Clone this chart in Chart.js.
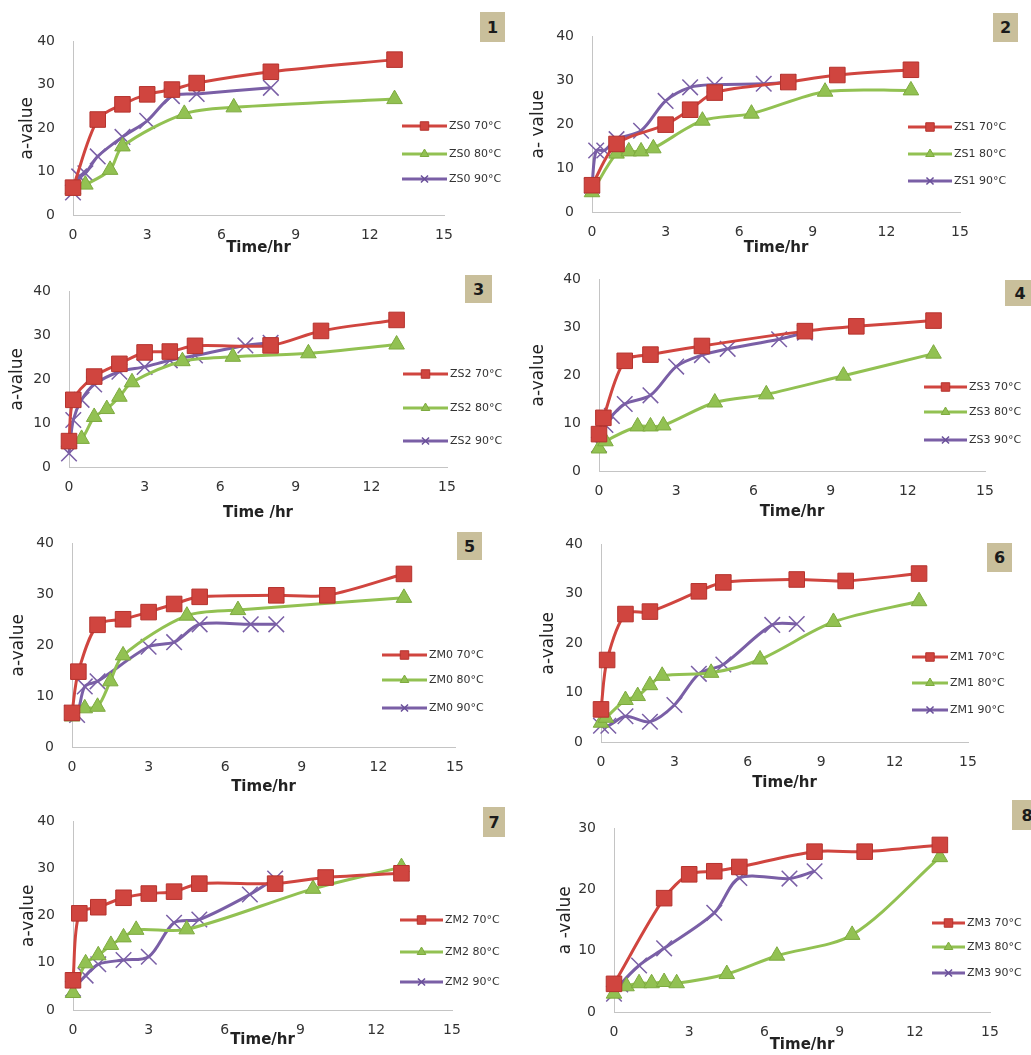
<!DOCTYPE html>
<html>
<head>
<meta charset="utf-8">
<script src="https://cdn.jsdelivr.net/npm/chart.js@4.4.0/dist/chart.umd.min.js"></script>
<style>
  body { margin: 0; background: #fff; width: 1031px; height: 1055px; overflow: hidden; position: relative; }
  canvas { position: absolute; }
  .tag { position: absolute; background: #c9bf9b; color: #1b1b1b; font: bold 16px 'DejaVu Sans', sans-serif;
         display: flex; align-items: center; justify-content: center; }
</style>
</head>
<body>
<script>
// ==================== DATA ====================

const timeTicks = [0, 3, 6, 9, 12, 15];
const tempLabels = ['70°C', '80°C', '90°C'];
const panelNames = ['ZS0', 'ZS1', 'ZS2', 'ZS3', 'ZM0', 'ZM1', 'ZM2', 'ZM3'];
const yTitles = ['a-value', 'a- value', 'a-value', 'a-value', 'a-value', 'a-value', 'a-value', 'a -value'];
const xTitles = ['Time/hr', 'Time/hr', 'Time /hr', 'Time/hr', 'Time/hr', 'Time/hr', 'Time/hr', 'Time/hr'];
const yMaxes = [40, 40, 40, 40, 40, 40, 40, 30];

// [time (hr), a-value]
const zs0_70 = [[0, 6.3], [1, 22], [2, 25.5], [3, 27.8], [4, 28.9], [5, 30.4], [8, 33], [13, 35.8]];
const zs0_80 = [[0, 6], [0.5, 7], [1.5, 10.4], [2, 15.8], [4.5, 23.3], [6.5, 24.8], [13, 26.7]];
const zs0_90 = [[0, 5.2], [0.25, 8.9], [0.5, 9.6], [1, 13.5], [2, 18], [3, 21.7], [4, 27.4], [5, 27.9], [8, 29.3]];

const zs1_70 = [[0, 6.1], [1, 15.5], [3, 19.9], [4, 23.3], [5, 27.2], [8, 29.6], [10, 31.2], [13, 32.4]];
const zs1_80 = [[0, 4.5], [1, 13.3], [1.5, 13.8], [2, 13.8], [2.5, 14.5], [4.5, 20.8], [6.5, 22.4], [9.5, 27.4], [13, 27.7]];
const zs1_90 = [[0, 6], [0.17, 14], [0.5, 14], [1, 16.6], [2, 18.5], [3, 25.3], [4, 28.4], [5, 29], [7, 29.2], [8, 29.6]];

const zs2_70 = [[0, 5.9], [0.17, 15.3], [1, 20.6], [2, 23.5], [3, 26.1], [4, 26.3], [5, 27.6], [8, 27.7], [10, 31], [13, 33.5]];
const zs2_80 = [[0, 5.3], [0.5, 6.4], [1, 11.4], [1.5, 13.2], [2, 16], [2.5, 19.3], [4.5, 24.1], [6.5, 25.1], [9.5, 25.9], [13, 27.9]];
const zs2_90 = [[0, 3.1], [0.17, 10.7], [0.5, 15.3], [1, 18.8], [2, 21.7], [3, 22.8], [4, 24.3], [5, 25.4], [7, 27.7], [8, 28.3]];

const zs3_70 = [[0, 7.7], [0.17, 11.1], [1, 23], [2, 24.3], [4, 26.1], [8, 29.2], [10, 30.2], [13, 31.4]];
const zs3_80 = [[0, 4.7], [0.25, 6.2], [1.5, 9.3], [2, 9.3], [2.5, 9.5], [4.5, 14.3], [6.5, 16], [9.5, 19.9], [13, 24.5]];
const zs3_90 = [[0, 5.5], [0.25, 9.6], [0.5, 11.5], [1, 14], [2, 15.8], [3, 21.8], [4, 24.2], [5, 25.5], [7, 27.5], [8, 28.9]];

const zm0_70 = [[0, 6.7], [0.25, 14.8], [1, 24], [2, 25.1], [3, 26.5], [4, 28.1], [5, 29.5], [8, 29.8], [10, 29.8], [13, 34]];
const zm0_80 = [[0, 6], [0.5, 7.6], [1, 7.9], [1.5, 12.9], [2, 18], [4.5, 25.8], [6.5, 26.9], [13, 29.3]];
const zm0_90 = [[0, 6.7], [0.2, 6.3], [0.5, 11.9], [1, 12.9], [3, 19.7], [4, 20.6], [5, 24.1], [7, 24.1], [8, 24.1]];

const zm1_70 = [[0, 6.6], [0.25, 16.6], [1, 25.9], [2, 26.4], [4, 30.5], [5, 32.3], [8, 32.9], [10, 32.6], [13, 34.1]];
const zm1_80 = [[0, 3.9], [0.2, 4.9], [1, 8.5], [1.5, 9.3], [2, 11.5], [2.5, 13.4], [4.5, 14], [6.5, 16.7], [9.5, 24.3], [13, 28.5]];
const zm1_90 = [[0, 3.3], [0.3, 3.3], [1, 5.2], [2, 4.1], [3, 7.5], [4, 13.8], [5, 15.7], [7, 23.7], [8, 23.9]];

const zm2_70 = [[0, 6.3], [0.25, 20.5], [1, 21.8], [2, 23.8], [3, 24.7], [4, 25.1], [5, 26.8], [8, 26.8], [10, 28.1], [13, 29]];
const zm2_80 = [[0, 3.6], [0.5, 9.9], [1, 11.6], [1.5, 13.8], [2, 15.4], [2.5, 17], [4.5, 17.1], [9.5, 25.7], [13, 30.3]];
const zm2_90 = [[0, 4.5], [0.5, 7.3], [1, 9.7], [2, 10.6], [3, 11.3], [4, 18.5], [5, 19.2], [7, 24.5], [8, 27.9]];

const zm3_70 = [[0, 4.6], [2, 18.6], [3, 22.5], [4, 23], [5, 23.7], [8, 26.2], [10, 26.2], [13, 27.3]];
const zm3_80 = [[0, 3], [0.5, 4.2], [1, 4.7], [1.5, 4.7], [2, 4.9], [2.5, 4.7], [4.5, 6.2], [6.5, 9.2], [9.5, 12.6], [13, 25.3]];
const zm3_90 = [[0, 3], [0.25, 4.5], [1, 7.6], [2, 10.4], [4, 16.2], [5, 21.9], [7, 21.8], [8, 23]];

const panelSeries = [
    [zs0_70, zs0_80, zs0_90], [zs1_70, zs1_80, zs1_90],
    [zs2_70, zs2_80, zs2_90], [zs3_70, zs3_80, zs3_90],
    [zm0_70, zm0_80, zm0_90], [zm1_70, zm1_80, zm1_90],
    [zm2_70, zm2_80, zm2_90], [zm3_70, zm3_80, zm3_90]
];

// ==================== STYLE / LAYOUT ====================

const seriesStyles = [
    { color: '#d0453f', edge: '#b5332e', pointStyle: 'rect', radius: 11, legendRadius: 6, pointWidth: 1 },
    { color: '#92c152', edge: '#7daa3f', pointStyle: 'triangle', radius: 9, legendRadius: 5, pointWidth: 1 },
    { color: '#7a5fa6', edge: '#6a509a', pointStyle: 'crossRot', radius: 11, legendRadius: 5, pointWidth: 1.5 }
];

// plot area in page pixels (L = t 0, R = t 15, T = y max, B = y 0)
const layout = [
    { L: 73,  R: 444, T: 35,  B: 215,  xGap: 33, yGap: 46, leg: [402, 447, 126, 154, 179], tag: [480, 12, 25, 30] },
    { L: 592, R: 960, T: 30,  B: 212,  xGap: 36, yGap: 54, leg: [908, 952, 127, 154, 181], tag: [993, 13, 25, 29] },
    { L: 69,  R: 447, T: 285, B: 467,  xGap: 46, yGap: 52, leg: [403, 448, 374, 408, 441], tag: [465, 275, 27, 28] },
    { L: 599, R: 985, T: 273, B: 471,  xGap: 41, yGap: 61, leg: [924, 967, 387, 412, 440], tag: [1005, 280, 30, 26] },
    { L: 72,  R: 455, T: 537, B: 747,  xGap: 40, yGap: 54, leg: [382, 427, 655, 680, 708], tag: [457, 532, 25, 28] },
    { L: 601, R: 968, T: 538, B: 742,  xGap: 41, yGap: 53, leg: [912, 948, 657, 683, 710], tag: [987, 543, 25, 29] },
    { L: 73,  R: 452, T: 815, B: 1010, xGap: 30, yGap: 45, leg: [400, 443, 920, 952, 982], tag: [483, 807, 22, 30] },
    { L: 614, R: 990, T: 822, B: 1012, xGap: 33, yGap: 49, leg: [932, 965, 923, 947, 973], tag: [1012, 800, 30, 30] }
];

const tickFont = { family: 'DejaVu Sans', size: 14 };

// legend drawn at the right-hand side of each panel
const sideLegend = {
    id: 'sideLegend',
    afterDraw(chart, args, opts) {
        const ctx = chart.ctx;
        chart.data.datasets.forEach((ds, k) => {
            const st = seriesStyles[k];
            const x0 = opts.x0 - opts.left, x1 = opts.x1 - opts.left;
            const y = opts.ys[k] - opts.top;
            ctx.save();
            ctx.strokeStyle = st.color;
            ctx.lineWidth = 3;
            ctx.beginPath();
            ctx.moveTo(x0, y);
            ctx.lineTo(x1, y);
            ctx.stroke();
            ctx.fillStyle = st.color;
            ctx.strokeStyle = st.edge;
            ctx.lineWidth = st.pointWidth;
            Chart.helpers.drawPoint(ctx, { pointStyle: st.pointStyle, radius: st.legendRadius, rotation: 0, borderWidth: st.pointWidth }, (x0 + x1) / 2, y);
            ctx.fillStyle = '#333';
            ctx.font = '11px "DejaVu Sans"';
            ctx.textBaseline = 'middle';
            ctx.textAlign = 'left';
            ctx.fillText(ds.label, x1 + 2, y);
            ctx.restore();
        });
    }
};

function createPanel(i) {
    const p = layout[i];
    const yAxisW = p.yGap + 12;
    const left = p.L - yAxisW;
    const top = p.T - 20;
    const width = (i % 2 === 0 ? 515 : 1031) - left;
    const xAxisH = p.xGap + 9;
    const height = (p.B - p.T) + 20 + xAxisH;

    const canvas = document.createElement('canvas');
    canvas.width = width;
    canvas.height = height;
    canvas.style.left = left + 'px';
    canvas.style.top = top + 'px';
    document.body.appendChild(canvas);

    const tag = document.createElement('div');
    tag.className = 'tag';
    tag.textContent = String(i + 1);
    tag.style.left = p.tag[0] + 'px';
    tag.style.top = p.tag[1] + 'px';
    tag.style.width = p.tag[2] + 'px';
    tag.style.height = p.tag[3] + 'px';
    document.body.appendChild(tag);

    const datasets = panelSeries[i].map((pts, k) => {
        const st = seriesStyles[k];
        return {
            label: panelNames[i] + ' ' + tempLabels[k],
            data: pts.map(d => ({ x: d[0], y: d[1] })),
            borderColor: st.color,
            backgroundColor: st.color,
            borderWidth: 3,
            pointStyle: st.pointStyle,
            pointRadius: st.radius,
            pointBackgroundColor: st.color,
            pointBorderColor: k === 2 ? st.color : st.edge,
            pointBorderWidth: st.pointWidth,
            tension: 0.3,
            clip: false
        };
    });

    return new Chart(canvas.getContext('2d'), {
        type: 'line',
        data: { datasets },
        plugins: [sideLegend],
        options: {
            responsive: false,
            animation: false,
            devicePixelRatio: 1,
            layout: { padding: { left: 0, top: 20, bottom: 0, right: width - (p.R - left) } },
            plugins: {
                legend: { display: false },
                tooltip: { enabled: false },
                sideLegend: { left, top, x0: p.leg[0], x1: p.leg[1], ys: p.leg.slice(2) }
            },
            scales: {
                x: {
                    type: 'linear',
                    min: 0,
                    max: 15,
                    afterBuildTicks: axis => { axis.ticks = timeTicks.map(v => ({ value: v })); },
                    afterFit: axis => { axis.height = xAxisH; },
                    grid: { display: false, drawTicks: false },
                    border: { display: true, color: '#c4c4c4', width: 1 },
                    ticks: { font: tickFont, color: '#333', padding: 12, maxRotation: 0 },
                    title: { display: true, text: xTitles[i], color: '#222', padding: 0,
                             font: { family: 'DejaVu Sans', size: 15, weight: 'bold' } }
                },
                y: {
                    min: 0,
                    max: yMaxes[i],
                    afterFit: axis => { axis.width = yAxisW; },
                    grid: { display: false, drawTicks: false },
                    border: { display: true, color: '#c4c4c4', width: 1 },
                    ticks: { stepSize: 10, font: tickFont, color: '#333', padding: 18 },
                    title: { display: true, text: yTitles[i], color: '#222', padding: 2,
                             font: { family: 'DejaVu Sans', size: 17 } }
                }
            }
        }
    });
}

for (let i = 0; i < 8; i++) createPanel(i);
</script>
</body>
</html>
